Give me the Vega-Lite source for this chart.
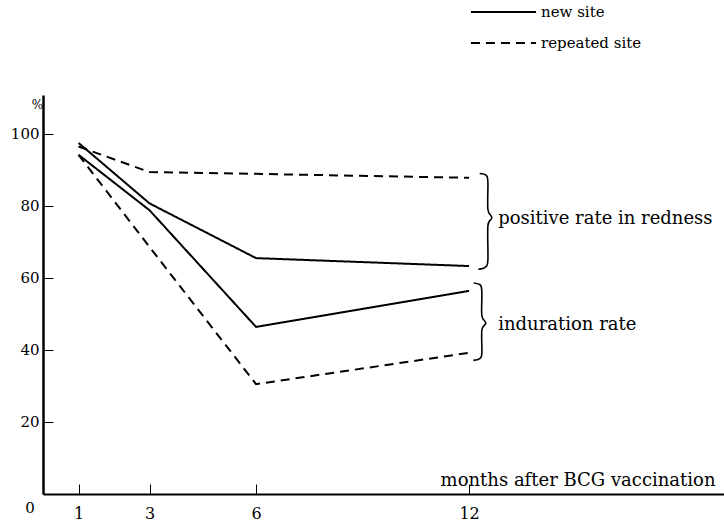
{
  "$schema": "https://vega.github.io/schema/vega-lite/v6.json",
  "width": 681,
  "height": 399,
  "autosize": {"type": "none"},
  "padding": {"left": 43, "top": 95, "right": 0, "bottom": 28},
  "background": "white",
  "config": {
    "view": {"stroke": null},
    "font": "DejaVu Serif",
    "axis": {
      "grid": false,
      "domainColor": "black",
      "tickColor": "black",
      "labelColor": "black",
      "labelFont": "DejaVu Serif",
      "labelFontSize": 15,
      "titleFont": "DejaVu Serif",
      "titleFontWeight": "normal",
      "titleColor": "black"
    },
    "legend": {
      "labelFont": "DejaVu Serif",
      "labelFontSize": 15,
      "labelColor": "black"
    }
  },
  "datasets": {
    "series": [
      {"measure": "redness", "site": "new site", "month": 1, "pct": 97.5},
      {"measure": "redness", "site": "new site", "month": 3, "pct": 80.7},
      {"measure": "redness", "site": "new site", "month": 6, "pct": 65.5},
      {"measure": "redness", "site": "new site", "month": 12, "pct": 63.3},
      {"measure": "redness", "site": "repeated site", "month": 1, "pct": 96.5},
      {"measure": "redness", "site": "repeated site", "month": 3, "pct": 89.4},
      {"measure": "redness", "site": "repeated site", "month": 6, "pct": 88.9},
      {"measure": "redness", "site": "repeated site", "month": 12, "pct": 87.8},
      {"measure": "induration", "site": "new site", "month": 1, "pct": 94.2},
      {"measure": "induration", "site": "new site", "month": 3, "pct": 78.8},
      {"measure": "induration", "site": "new site", "month": 6, "pct": 46.4},
      {"measure": "induration", "site": "new site", "month": 12, "pct": 56.4},
      {"measure": "induration", "site": "repeated site", "month": 1, "pct": 94.2},
      {"measure": "induration", "site": "repeated site", "month": 3, "pct": 68.6},
      {"measure": "induration", "site": "repeated site", "month": 6, "pct": 30.5},
      {"measure": "induration", "site": "repeated site", "month": 12, "pct": 39.2}
    ],
    "braces": [
      {"brace": "redness", "ord": 1, "month": 12.30, "pct": 89.0},
      {"brace": "redness", "ord": 2, "month": 12.48, "pct": 88.5},
      {"brace": "redness", "ord": 3, "month": 12.53, "pct": 86.5},
      {"brace": "redness", "ord": 4, "month": 12.53, "pct": 79.0},
      {"brace": "redness", "ord": 5, "month": 12.64, "pct": 76.7},
      {"brace": "redness", "ord": 6, "month": 12.53, "pct": 74.5},
      {"brace": "redness", "ord": 7, "month": 12.53, "pct": 65.0},
      {"brace": "redness", "ord": 8, "month": 12.46, "pct": 63.0},
      {"brace": "redness", "ord": 9, "month": 12.26, "pct": 62.4},
      {"brace": "induration", "ord": 1, "month": 12.13, "pct": 58.6},
      {"brace": "induration", "ord": 2, "month": 12.32, "pct": 58.0},
      {"brace": "induration", "ord": 3, "month": 12.36, "pct": 56.0},
      {"brace": "induration", "ord": 4, "month": 12.36, "pct": 49.5},
      {"brace": "induration", "ord": 5, "month": 12.47, "pct": 47.5},
      {"brace": "induration", "ord": 6, "month": 12.36, "pct": 45.5},
      {"brace": "induration", "ord": 7, "month": 12.36, "pct": 39.0},
      {"brace": "induration", "ord": 8, "month": 12.30, "pct": 37.6},
      {"brace": "induration", "ord": 9, "month": 12.12, "pct": 37.1}
    ],
    "notes": [
      {"label": "positive rate in redness", "month": 12.82, "pct": 76.5},
      {"label": "induration rate", "month": 12.82, "pct": 47.0}
    ],
    "origin": [
      {"label": "0", "month": 0, "pct": 0}
    ]
  },
  "layer": [
    {
      "data": {"name": "series"},
      "mark": {"type": "line", "color": "black", "strokeWidth": 2},
      "encoding": {
        "x": {
          "field": "month",
          "type": "quantitative",
          "scale": {"domain": [0, 19.18], "nice": false},
          "axis": {
            "values": [1, 3, 6, 12],
            "title": "months after BCG vaccination",
            "titleAnchor": "end",
            "titleAlign": "right",
            "titleX": 672,
            "titleY": -9,
            "titleBaseline": "alphabetic",
            "titleFontSize": 18,
            "tickSize": -10,
            "tickWidth": 1,
            "domainWidth": 2,
            "labelPadding": 21,
            "labelFontSize": 16,
            "labelFlush": false
          }
        },
        "y": {
          "field": "pct",
          "type": "quantitative",
          "scale": {"domain": [0, 110.8], "nice": false},
          "axis": {
            "values": [20, 40, 60, 80, 100],
            "title": "%",
            "titleAngle": 0,
            "titleX": -6,
            "titleY": 9,
            "titleAlign": "center",
            "titleBaseline": "middle",
            "titleFontSize": 12,
            "tickSize": -10,
            "tickWidth": 1,
            "domainWidth": 2.5,
            "labelPadding": 14,
            "labelFontSize": 15
          }
        },
        "detail": {"field": "measure"},
        "strokeDash": {
          "field": "site",
          "type": "nominal",
          "scale": {"domain": ["new site", "repeated site"], "range": [[1, 0], [9, 6]]},
          "legend": {
            "title": null,
            "orient": "none",
            "legendX": 444,
            "legendY": -99.5,
            "padding": 0,
            "rowPadding": 6,
            "symbolType": "M-2.1,0H2.1",
            "symbolSize": 961,
            "symbolStrokeWidth": 2,
            "symbolStrokeColor": "black",
            "symbolFillColor": "transparent",
            "labelOffset": 21,
            "labelBaseline": "middle"
          }
        }
      }
    },
    {
      "data": {"name": "braces"},
      "mark": {"type": "line", "color": "black", "strokeWidth": 1.6, "interpolate": "cardinal"},
      "encoding": {
        "x": {"field": "month", "type": "quantitative"},
        "y": {"field": "pct", "type": "quantitative"},
        "detail": {"field": "brace"},
        "order": {"field": "ord", "type": "quantitative"}
      }
    },
    {
      "data": {"name": "notes"},
      "mark": {"type": "text", "align": "left", "baseline": "middle", "fontSize": 18, "font": "DejaVu Serif", "color": "black"},
      "encoding": {
        "x": {"field": "month", "type": "quantitative"},
        "y": {"field": "pct", "type": "quantitative"},
        "text": {"field": "label"}
      }
    },
    {
      "data": {"name": "origin"},
      "mark": {"type": "text", "align": "center", "baseline": "middle", "fontSize": 15, "font": "DejaVu Serif", "color": "black", "dx": -13, "dy": 14},
      "encoding": {
        "x": {"field": "month", "type": "quantitative"},
        "y": {"field": "pct", "type": "quantitative"},
        "text": {"field": "label"}
      }
    }
  ]
}
